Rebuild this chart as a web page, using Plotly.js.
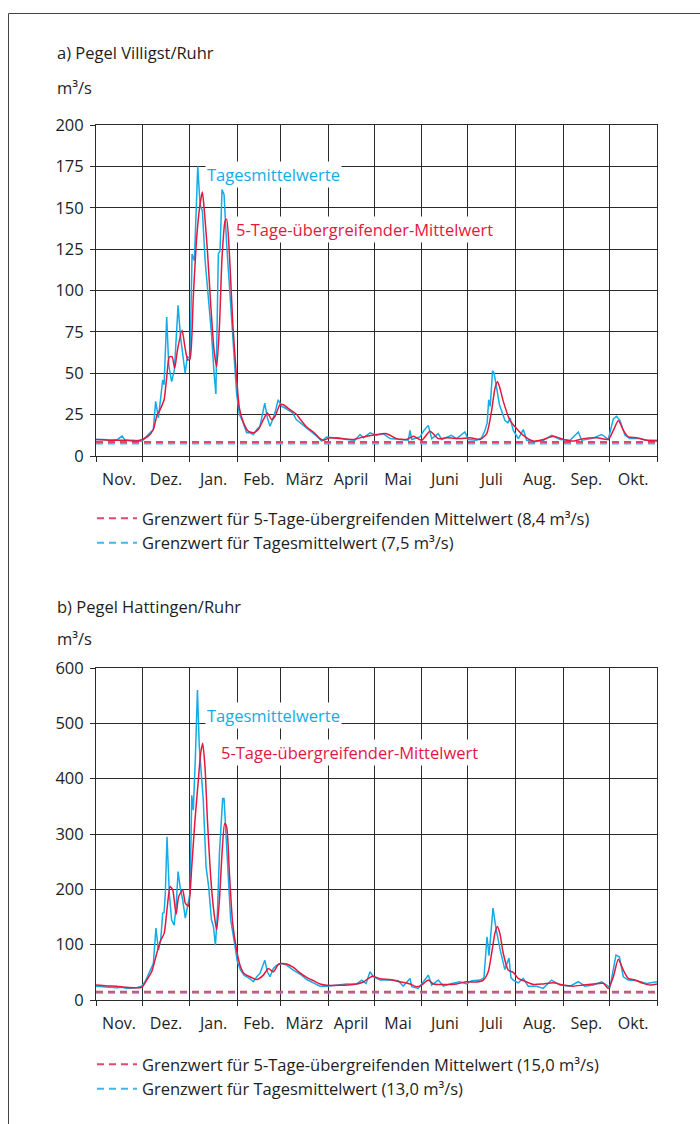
<!DOCTYPE html>
<html>
<head>
<meta charset="utf-8">
<script src="https://cdn.plot.ly/plotly-3.0.1.min.js"></script>
<style>
html,body{margin:0;padding:0;background:#fff;}
#chart{width:700px;height:1124px;}
</style>
</head>
<body>
<div id="chart"></div>
<script>
// ---------- DATA ----------
var months = ["Nov.", "Dez.", "Jan.", "Feb.", "März", "April", "Mai", "Juni", "Juli", "Aug.", "Sep.", "Okt."];
var monthDays = [30, 31, 31, 28, 31, 30, 31, 30, 31, 31, 30, 31];

// a) Pegel Villigst/Ruhr – Tagesmittelwerte (day of hydrological year, m³/s)
var aDailyDay = [0,5,10,14,17,19,24,30,34,37.3,38.8,40.6,43.4,44.3,46,47.3,49.2,51,53.4,55,58,59.4,61.2,62.5,64,65,66.2,67.7,69.2,71,73,75.3,76.8,78,79.6,80.7,82,83.3,85,87.2,89,91.5,93.3,95.4,98,100,102.4,104.6,106.7,109.8,111.5,113.2,115,116.7,118.5,120.8,123,126.2,128,130.3,134.9,139.2,143.6,146.8,150.1,154,157.7,163.1,168.5,171.8,174,176.1,178.3,182.6,186.9,191.3,196.7,203.2,204.3,205.4,210.8,213.4,216.2,218.4,222.7,224.9,231.2,234.6,240,242.2,247.6,250.9,253.1,254.5,255.5,256.5,258,259,260.5,262.5,266.1,268,269.4,271.5,274.8,278,280.2,284.6,291.1,296.4,301.9,308.4,313.8,316,322.5,329,333.3,336.6,338.7,340.9,344.2,347.4,353.9,358.3,365];
var aDailyVal = [10,10,9.5,10,12,9.5,9.5,9,13,16,33,23,46,43,84,55,45,52,91,72,50,60,59,122,118,142,175,152,148,118,98,72,50,37.5,122,124,161,158,128,96,70,37.5,25,21,14,14,13,16,18,32,23,18,22,27,34,30,29,27,26,22,18.5,15.5,12,9,11.5,11,11,10,9.5,13,11,12.5,14,12.5,13.5,10.5,10,9.5,15.5,10,11.5,15.5,18.5,10.5,13.5,10,12.5,10.5,14.5,10,9.5,11,15.5,20,34,30,51.5,50,42,31,21.4,20,23,15.5,10.5,16,9.5,8.5,9.5,12.5,10,9.5,14.5,9.5,10.5,13,10,22.4,24,21.4,12.5,10.5,10.5,9.5,9.5];

// a) 5-Tage-übergreifender Mittelwert
var aFiveDay = [0,10,20,26,30,34,37.3,39.5,41.7,44.3,46,47.7,49.5,51.2,53,56,58,59.7,61.2,63.3,65.5,67.7,69.2,70.5,72.5,74.6,76.8,78.5,80.3,82,84,85,86.8,89,91.1,93.3,96,99,102.4,105.6,108.9,111.5,114.3,116.5,119.7,121.9,126.2,130.3,132.7,137,141.4,145.7,147.9,152.2,158.7,167.4,173.9,182.6,189.1,195.6,202.1,206.5,211.9,217.3,222.7,228.2,236.9,243.4,249.9,254.2,257.4,259.6,261.2,262.5,265,269.4,273.7,278,284.6,291.1,297.6,304.1,310.6,317.1,325.8,333.3,336.6,339.9,343.1,346.4,351.8,358.3,365];
var aFiveVal = [10,9.5,9.5,9,10,12,16,24,28,34,47.5,60,60,53,64,76,65,58,59,96,132,152,159.5,148,124,92,64,54,78,120,142,143,122,80,52,29,20,15,14,16,22,26,22,24,31,31,28,25.4,22.4,17.5,14.5,10.5,9.5,11,10.5,10,11.5,13,13.5,10.5,10,12,9.5,15,10.5,11,10.5,11,10,13.5,27.4,41,44.9,42,33,21.4,16.5,12.5,9,10,12,10,9,10.5,11,10,15.5,21.4,15.5,11.5,11,9.5,9];

// b) Pegel Hattingen/Ruhr – Tagesmittelwerte
var bDailyDay = [0,6.9,13.4,17,20,26.5,29.7,31.9,35.1,37.3,39,40.6,42.1,43.4,44.3,45.1,46.2,47.7,49.2,50.8,52.1,53.4,54.7,56.4,58.1,59.7,61.2,62.3,63.3,64.6,66,67.2,68.5,69.8,71.6,73.3,75.1,76.4,77.7,79,80.3,81.3,82.4,83.3,84.6,86.1,87.6,89.8,92,94.1,96.3,99.8,102.4,104.6,106.7,109.8,111.5,113.2,115.4,117.6,120.8,124,128.4,132.7,137.1,141.4,145.8,150.1,156.6,163.1,169.6,172.9,175.7,178.3,180.4,184.8,191.3,196.7,199.9,204.3,205.4,209.7,213,216.2,218.4,222.7,226,231.4,236.8,241.2,244.4,249.8,252.4,254.4,255.7,258.3,260.2,263,266,268.7,270,271.5,274.7,278,281.2,286.7,291,296.4,301.9,308.4,313.8,318.1,323.6,329,334.4,336.6,338.3,340.5,343.1,346.3,351.8,358.3,365];
var bDailyVal = [25,24,22,23,21,22,25,33,51,66,130,90,108,157,158,193,295,193,145,135,169,232,205,181,148,169,193,370,343,434,560,458,416,361,241,205,145,133,99,157,265,313,364,364,301,229,145,108,69,54,45,39,33,42,48,72,51,42,57,63,66,63,54,47,37,31,25,25,27,29,29,36,30,51,42,36,36,35,25,39,24,21,33,45,27,36,25,30,33,29,35,36,40,114,80,166,130,90,55,76,40,36,31,39,25,25,21,36,27,25,33,25,27,33,23,60,81,78,42,36,35,30,33];

// b) 5-Tage-übergreifender Mittelwert
var bFiveDay = [0,6.9,13.4,20,29.7,33,36.2,39.5,42.1,44.3,46.4,48.2,49.9,52.1,53.8,56.4,58.1,60.1,62.3,64.4,66.6,68.1,69.4,70.9,72.5,74.6,76.8,78.5,80.3,82,83.7,85,86.8,88.9,91.5,93.7,96.3,100.2,104.6,108.9,112.1,115.4,118.7,120.8,124,128.4,132.7,137.1,141.4,145.8,150.1,158.8,167.4,173.9,177.2,180,184.8,191.3,197.8,204.3,208.6,211.9,216.2,219.5,226,234.6,241.2,247.6,252,255.2,257.4,259.5,261.1,262.8,265,268.2,271.5,274.7,278,284.5,291,297.5,304,310.5,317,323.6,330.1,333.3,336.6,339.8,343.1,346.3,350.7,356.1,360.5,365];
var bFiveVal = [27,25.5,25,23,23,36,51,84,108,120,169,205,199,155,187,199,175,170,241,325,398,446,464,422,325,223,157,127,181,265,319,313,229,139,90,63,48,42,37,45,57,51,65,66,65,59,49,41,35,29,26.5,26.5,28,32.5,39,43,38.5,37,33,29,24,27,36,29,28,29,33,32.5,36,51,84,120,133,120,84,54,50,39,35,28,29,31,27,25,27,29,30,21,42,73.5,54,39,36,30,27,29];

// Grenzwerte
var aLimitFive = 8.4, aLimitDaily = 7.5;
var bLimitFive = 15.0, bLimitDaily = 13.0;
var aTicks = [0, 25, 50, 75, 100, 125, 150, 175, 200];
var bTicks = [0, 100, 200, 300, 400, 500, 600];

// ---------- LAYOUT HELPERS ----------
var W = 700, H = 1124;
function px(x) { return x / W; }
function py(y) { return (H - y) / H; }

var bounds = [0]; monthDays.forEach(function (d) { bounds.push(bounds[bounds.length - 1] + d); });
var mids = []; for (var i = 0; i < months.length; i++) mids.push((bounds[i] + bounds[i + 1]) / 2);
var yearLen = bounds[bounds.length - 1];

var cDaily = '#12ace6', cFive = '#e4183f';
var cLimFive = '#e2486c', cLimDaily = '#43b6e8';
var gridC = '#2a2a2a';
var FONT = 'Open Sans, Noto Sans, sans-serif';
var txtC = '#1e1e1e';

function xAxisDef(anchor) {
  return {
    domain: [px(96), px(657)], anchor: anchor, range: [0, yearLen],
    tickmode: 'array', tickvals: mids, ticktext: months,
    showgrid: false, ticks: '', zeroline: false,
    ticklabelstandoff: 9,
    tickfont: {family: FONT, size: 16, color: txtC},
    showline: true, linecolor: gridC, linewidth: 1, mirror: true,
    minor: {tickmode: 'array', tickvals: bounds, showgrid: true, gridcolor: gridC, gridwidth: 1,
            ticks: 'outside', ticklen: 5, tickcolor: gridC, tickwidth: 1},
    fixedrange: true
  };
}
function yAxisDef(anchor, dom, rng, ticks) {
  return {
    domain: dom, anchor: anchor, range: rng,
    tickmode: 'array', tickvals: ticks,
    showgrid: true, gridcolor: gridC, gridwidth: 1,
    ticks: 'outside', ticklen: 5, tickcolor: gridC,
    zeroline: false, showline: true, linecolor: gridC, mirror: true,
    tickfont: {family: FONT, size: 16.5, color: txtC},
    ticklabelstandoff: 3,
    fixedrange: true
  };
}

function limTrace(val, color, name, xa, ya, legend) {
  return {x: [0, yearLen], y: [val, val], xaxis: xa, yaxis: ya, mode: 'lines', name: name,
          line: {color: color, width: 2, dash: '7px,5px'}, legend: legend, hoverinfo: 'skip'};
}

var traces = [
  limTrace(aLimitDaily, cLimDaily, 'Grenzwert für Tagesmittelwert (7,5 m³/s)', 'x', 'y', 'legend'),
  limTrace(aLimitFive, cLimFive, 'Grenzwert für 5-Tage-übergreifenden Mittelwert (8,4 m³/s)', 'x', 'y', 'legend'),
  {x: aDailyDay, y: aDailyVal, xaxis: 'x', yaxis: 'y', mode: 'lines', line: {color: cDaily, width: 1.5}, showlegend: false},
  {x: aFiveDay, y: aFiveVal, xaxis: 'x', yaxis: 'y', mode: 'lines', line: {color: cFive, width: 1.5, shape: 'spline', smoothing: 0.6}, showlegend: false},
  limTrace(bLimitDaily, cLimDaily, 'Grenzwert für Tagesmittelwert (13,0 m³/s)', 'x2', 'y2', 'legend2'),
  limTrace(bLimitFive, cLimFive, 'Grenzwert für 5-Tage-übergreifenden Mittelwert (15,0 m³/s)', 'x2', 'y2', 'legend2'),
  {x: bDailyDay, y: bDailyVal, xaxis: 'x2', yaxis: 'y2', mode: 'lines', line: {color: cDaily, width: 1.5}, showlegend: false},
  {x: bFiveDay, y: bFiveVal, xaxis: 'x2', yaxis: 'y2', mode: 'lines', line: {color: cFive, width: 1.5, shape: 'spline', smoothing: 0.6}, showlegend: false}
];

function legendDef(yTop) {
  return {x: px(92), y: py(yTop), xanchor: 'left', yanchor: 'top', traceorder: 'reversed',
          bgcolor: 'rgba(0,0,0,0)', borderwidth: 0, itemwidth: 40, tracegroupgap: 0,
          font: {family: FONT, size: 16.5, color: txtC}, itemclick: false, itemdoubleclick: false};
}

function textAnn(t, x, y, size) {
  return {text: t, xref: 'paper', yref: 'paper', x: px(x), y: py(y), xanchor: 'left', yanchor: 'middle',
          showarrow: false, font: {family: FONT, size: size || 15, color: txtC}};
}
function curveAnn(t, color, xa, ya, xd, yd) {
  return {text: t, xref: xa, yref: ya, x: xd, y: yd, xanchor: 'left', yanchor: 'middle', showarrow: false,
          bgcolor: '#ffffff', borderpad: 1, font: {family: FONT, size: 16.5, color: color}};
}

var layout = {
  width: W, height: H, margin: {l: 0, r: 0, t: 0, b: 0},
  paper_bgcolor: '#fff', plot_bgcolor: '#fff', showlegend: true,
  xaxis: xAxisDef('y'), yaxis: yAxisDef('x', [py(456), py(125)], [0, 200], aTicks),
  xaxis2: xAxisDef('y2'), yaxis2: yAxisDef('x2', [py(1000), py(668)], [0, 600], bTicks),
  legend: legendDef(501), legend2: legendDef(1047),
  annotations: [
    textAnn('a) Pegel Villigst/Ruhr', 55, 53, 16.5),
    textAnn('m³/s', 55, 88, 16.5),
    textAnn('b) Pegel Hattingen/Ruhr', 55, 606, 16.5),
    textAnn('m³/s', 55, 638, 16.5),
    curveAnn('Tagesmittelwerte', cDaily, 'x', 'y', 71, 170),
    curveAnn('5-Tage-übergreifender-Mittelwert', cFive, 'x', 'y', 90, 137),
    curveAnn('Tagesmittelwerte', cDaily, 'x2', 'y2', 71, 515),
    curveAnn('5-Tage-übergreifender-Mittelwert', cFive, 'x2', 'y2', 80, 447)
  ],
  shapes: [
    {type: 'line', xref: 'paper', yref: 'paper', x0: px(8.5), x1: 1, y0: py(13.5), y1: py(13.5), line: {color: '#444', width: 1}},
    {type: 'line', xref: 'paper', yref: 'paper', x0: px(8.5), x1: px(8.5), y0: py(13.5), y1: 0, line: {color: '#444', width: 1}}
  ]
};

Plotly.newPlot('chart', traces, layout, {displayModeBar: false, staticPlot: true});
</script>
</body>
</html>
